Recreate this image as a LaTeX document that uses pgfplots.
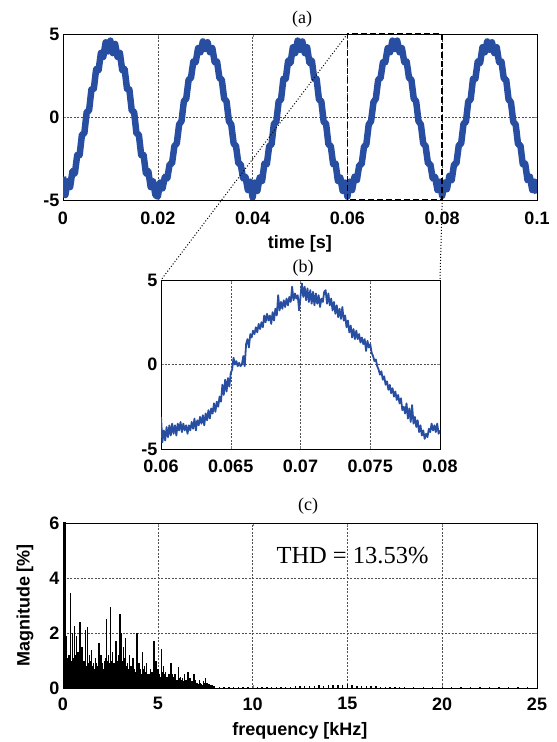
\documentclass[border=0pt]{standalone}
\usepackage{fontspec}
\setmainfont{Liberation Serif}
\setsansfont{Liberation Sans}
\usepackage{pgfplots}
\pgfplotsset{compat=1.18}

\definecolor{sigblue}{RGB}{40,78,162}
\definecolor{gridgray}{RGB}{80,80,80}

\pgfplotsset{
  panel/.style={
    scale only axis,
    anchor=south west,
    axis line style={line width=0.9pt},
    tick align=inside,
    major tick length=3pt,
    scaled x ticks=false,
    scaled y ticks=false,
    grid=major,
    major grid style={gridgray, line width=0.5pt, dash pattern=on 2pt off 1.5pt},
    ticklabel style={font=\sffamily\bfseries\fontsize{18}{18}\selectfont},
    /pgf/number format/assume math mode=true,
    label style={font=\sffamily\bfseries\fontsize{18}{18}\selectfont},
  }
}

\begin{document}
\begin{tikzpicture}[x=1pt,y=1pt]
\useasboundingbox (0,0) rectangle (557,742);

% (a) full waveform
\begin{axis}[panel, at={(63pt,542pt)}, width=474pt, height=166pt,
  xmin=0, xmax=0.1, ymin=-5, ymax=5,
  xtick={0,0.02,0.04,0.06,0.08,0.1},
  xticklabels={0,0.02,0.04,0.06,0.08,0.1},
  xticklabel style={yshift=-8pt},
  ytick={-5,0,5},
  xlabel={time [s]},
  xlabel style={at={(axis description cs:0.5,-0.265)}, anchor=center}]
\addplot[sigblue, line width=6.5pt, line join=round] table {
0.0000 -3.60
0.0005 -4.70
0.0010 -3.88
0.0015 -4.22
0.0020 -3.26
0.0025 -3.41
0.0030 -2.29
0.0035 -2.30
0.0040 -1.06
0.0045 -0.99
0.0050 0.30
0.0055 0.39
0.0060 1.66
0.0065 1.70
0.0070 2.89
0.0075 2.81
0.0080 3.86
0.0085 3.62
0.0090 4.50
0.0095 3.95
0.0100 4.60
0.0105 3.85
0.0110 4.40
0.0115 3.62
0.0120 3.86
0.0125 2.81
0.0130 2.89
0.0135 1.70
0.0140 1.66
0.0145 0.39
0.0150 0.30
0.0155 -0.99
0.0160 -1.06
0.0165 -2.30
0.0170 -2.29
0.0175 -3.41
0.0180 -3.26
0.0185 -4.22
0.0190 -3.88
0.0195 -4.70
0.0200 -4.80
0.0205 -3.95
0.0210 -4.30
0.0215 -3.60
0.0220 -3.70
0.0225 -2.85
0.0230 -2.80
0.0235 -1.75
0.0240 -1.60
0.0245 -0.45
0.0250 -0.25
0.0255 0.95
0.0260 1.10
0.0265 2.25
0.0270 2.35
0.0275 3.35
0.0280 3.30
0.0285 4.15
0.0290 3.90
0.0295 4.55
0.0300 4.10
0.0305 4.50
0.0310 3.90
0.0315 4.15
0.0320 3.30
0.0325 3.35
0.0330 2.35
0.0335 2.25
0.0340 1.10
0.0345 0.95
0.0350 -0.25
0.0355 -0.45
0.0360 -1.60
0.0365 -1.75
0.0370 -2.80
0.0375 -2.85
0.0380 -3.70
0.0385 -3.60
0.0390 -4.40
0.0395 -3.90
0.0400 -4.85
0.0405 -3.95
0.0410 -4.45
0.0415 -3.65
0.0420 -3.85
0.0425 -2.80
0.0430 -2.85
0.0435 -1.75
0.0440 -1.65
0.0445 -0.40
0.0450 -0.30
0.0455 0.95
0.0460 1.05
0.0465 2.30
0.0470 2.30
0.0475 3.40
0.0480 3.25
0.0485 4.20
0.0490 3.85
0.0495 4.60
0.0500 4.05
0.0505 4.55
0.0510 3.85
0.0515 4.20
0.0520 3.25
0.0525 3.40
0.0530 2.30
0.0535 2.30
0.0540 1.05
0.0545 0.95
0.0550 -0.30
0.0555 -0.40
0.0560 -1.65
0.0565 -1.75
0.0570 -2.85
0.0575 -2.80
0.0580 -3.85
0.0585 -3.65
0.0590 -4.45
0.0595 -3.95
0.0600 -4.80
0.0605 -3.90
0.0610 -4.40
0.0615 -3.60
0.0620 -3.80
0.0625 -2.90
0.0630 -2.85
0.0635 -1.80
0.0640 -1.65
0.0645 -0.45
0.0650 -0.25
0.0655 0.90
0.0660 1.10
0.0665 2.25
0.0670 2.35
0.0675 3.30
0.0680 3.30
0.0685 4.15
0.0690 3.90
0.0695 4.60
0.0700 4.10
0.0705 4.60
0.0710 3.90
0.0715 4.15
0.0720 3.30
0.0725 3.35
0.0730 2.35
0.0735 2.25
0.0740 1.10
0.0745 0.95
0.0750 -0.25
0.0755 -0.45
0.0760 -1.60
0.0765 -1.75
0.0770 -2.80
0.0775 -2.85
0.0780 -3.70
0.0785 -3.60
0.0790 -4.40
0.0795 -3.90
0.0800 -4.75
0.0805 -3.95
0.0810 -4.35
0.0815 -3.55
0.0820 -3.80
0.0825 -2.85
0.0830 -2.80
0.0835 -1.70
0.0840 -1.60
0.0845 -0.40
0.0850 -0.30
0.0855 0.95
0.0860 1.05
0.0865 2.30
0.0870 2.30
0.0875 3.35
0.0880 3.25
0.0885 4.20
0.0890 3.90
0.0895 4.55
0.0900 4.05
0.0905 4.50
0.0910 3.85
0.0915 4.20
0.0920 3.30
0.0925 3.35
0.0930 2.30
0.0935 2.25
0.0940 1.05
0.0945 0.90
0.0950 -0.30
0.0955 -0.45
0.0960 -1.65
0.0965 -1.70
0.0970 -2.85
0.0975 -2.80
0.0980 -3.80
0.0985 -3.60
0.0990 -4.40
0.0995 -3.90
0.1000 -4.60
};
\coordinate (zA) at (axis cs:0.06,5);
\coordinate (zB) at (axis cs:0.08,-5);
\coordinate (zC) at (axis cs:0.06,-5);
\coordinate (zD) at (axis cs:0.08,5);
\end{axis}

% (b) zoomed period
\begin{axis}[panel, at={(161pt,293pt)}, width=279pt, height=169pt,
  xmin=0.06, xmax=0.08, ymin=-5, ymax=5,
  xtick={0.06,0.065,0.07,0.075,0.08},
  xticklabels={0.06,0.065,0.07,0.075,0.08},
  xticklabel style={yshift=-7pt},
  ytick={-5,0,5}]
\addplot[sigblue, line width=1.8pt, line join=round] table {
0.0600 -3.1
0.0601 -4.6
0.0602 -3.9
0.0603 -4.5
0.0604 -3.7
0.0605 -4.3
0.0606 -3.6
0.0607 -4.2
0.0608 -3.5
0.0609 -4.1
0.0610 -3.6
0.0611 -4.2
0.0612 -3.5
0.0613 -3.9
0.0614 -3.4
0.0615 -4.0
0.0616 -3.5
0.0617 -3.9
0.0618 -3.6
0.0619 -4.1
0.0620 -3.6
0.0621 -3.9
0.0622 -3.4
0.0623 -3.8
0.0624 -3.2
0.0625 -3.9
0.0626 -3.3
0.0627 -3.6
0.0628 -3.1
0.0629 -3.5
0.0630 -3.0
0.0631 -3.6
0.0632 -2.9
0.0633 -3.3
0.0634 -2.7
0.0635 -3.2
0.0636 -2.6
0.0637 -2.9
0.0638 -2.3
0.0639 -2.8
0.0640 -2.2
0.0641 -2.5
0.0642 -1.9
0.0643 -2.2
0.0644 -1.2
0.0645 -1.8
0.0646 -0.9
0.0647 -1.6
0.0648 -0.8
0.0649 -1.3
0.0650 -0.5
0.0651 -0.3
0.0652 0.4
0.0653 0.0
0.0654 0.2
0.0655 -0.1
0.0656 0.1
0.0657 -0.1
0.0658 0.0
0.0659 0.5
0.0660 -0.1
0.0661 1.2
0.0662 1.5
0.0663 1.0
0.0664 1.8
0.0665 1.6
0.0666 2.0
0.0667 1.8
0.0668 2.2
0.0669 1.9
0.0670 2.4
0.0671 2.1
0.0672 2.5
0.0673 2.2
0.0674 2.9
0.0675 2.5
0.0676 3.0
0.0677 2.6
0.0678 2.9
0.0679 2.4
0.0680 3.1
0.0681 2.6
0.0682 3.3
0.0683 2.9
0.0684 4.1
0.0685 3.2
0.0686 3.7
0.0687 3.3
0.0688 3.8
0.0689 3.4
0.0690 3.9
0.0691 3.5
0.0692 4.0
0.0693 3.7
0.0694 4.6
0.0695 3.8
0.0696 4.2
0.0697 3.9
0.0698 4.1
0.0699 3.2
0.0700 4.0
0.0701 4.8
0.0702 4.0
0.0703 4.6
0.0704 3.8
0.0705 4.5
0.0706 3.7
0.0707 4.4
0.0708 3.6
0.0709 4.3
0.0710 3.5
0.0711 4.2
0.0712 3.6
0.0713 4.1
0.0714 3.4
0.0715 3.9
0.0716 3.7
0.0717 4.3
0.0718 4.4
0.0719 3.6
0.0720 4.2
0.0721 3.5
0.0722 3.9
0.0723 3.2
0.0724 3.7
0.0725 3.0
0.0726 3.5
0.0727 2.8
0.0728 3.3
0.0729 2.7
0.0730 3.4
0.0731 2.6
0.0732 2.9
0.0733 2.2
0.0734 2.6
0.0735 1.9
0.0736 2.3
0.0737 1.6
0.0738 2.1
0.0739 1.5
0.0740 2.0
0.0741 1.5
0.0742 1.8
0.0743 1.3
0.0744 1.6
0.0745 1.2
0.0746 1.5
0.0747 0.8
0.0748 1.4
0.0749 1.0
0.0750 1.2
0.0751 0.7
0.0752 0.5
0.0753 0.2
0.0754 0.3
0.0755 -0.1
0.0756 -0.3
0.0757 -0.6
0.0758 -0.4
0.0759 -0.9
0.0760 -0.7
0.0761 -1.2
0.0762 -1.0
0.0763 -1.5
0.0764 -1.2
0.0765 -1.7
0.0766 -1.4
0.0767 -1.9
0.0768 -1.6
0.0769 -2.1
0.0770 -1.8
0.0771 -2.3
0.0772 -2.0
0.0773 -2.7
0.0774 -2.5
0.0775 -2.9
0.0776 -2.3
0.0777 -3.2
0.0778 -2.6
0.0779 -3.4
0.0780 -2.4
0.0781 -3.5
0.0782 -3.1
0.0783 -3.7
0.0784 -3.3
0.0785 -4.0
0.0786 -3.6
0.0787 -4.2
0.0788 -3.9
0.0789 -4.4
0.0790 -4.1
0.0791 -4.3
0.0792 -3.8
0.0793 -4.0
0.0794 -3.5
0.0795 -3.9
0.0796 -3.6
0.0797 -4.0
0.0798 -3.5
0.0799 -4.1
0.0800 -3.9
};
\coordinate (bA) at (axis cs:0.06,5);
\coordinate (bB) at (axis cs:0.08,5);
\end{axis}

% (c) harmonic spectrum
\begin{axis}[panel, at={(63pt,54pt)}, width=474pt, height=165pt,
  xmin=0, xmax=25, ymin=0, ymax=6,
  xtick={0,5,10,15,20,25}, ytick={0,2,4,6},
  xticklabel style={yshift=-6pt},
  xlabel={frequency [kHz]}, ylabel={Magnitude [\%]},
  xlabel style={at={(axis description cs:0.5,-0.26)}, anchor=center},
  ylabel style={at={(axis description cs:-0.08,0.5)}, anchor=center}]
\addplot[ycomb, black, line width=3pt] coordinates {(0.06,100)};
% background mass between the larger harmonics
\addplot[ycomb, black, line width=1.4pt] table {
0.15 1.30
0.25 1.10
0.35 1.20
0.45 1.00
0.55 1.10
0.65 1.20
0.75 1.00
0.85 0.90
0.95 1.10
1.05 0.90
1.15 1.00
1.25 0.80
1.35 0.90
1.45 1.00
1.55 0.80
1.65 0.70
1.75 0.90
1.85 0.70
1.95 0.80
2.05 0.90
2.15 0.60
2.25 1.10
2.35 1.00
2.45 0.90
2.55 1.00
2.65 0.80
2.75 0.90
2.85 0.80
2.95 1.20
3.05 1.10
3.15 1.00
3.25 1.10
3.35 0.80
3.45 0.70
3.55 0.80
3.65 0.60
3.75 0.70
3.85 0.60
3.95 0.80
4.05 0.60
4.15 0.50
4.25 0.70
4.35 0.60
4.45 0.50
4.55 0.50
4.65 0.40
4.75 0.60
4.85 0.70
4.95 0.50
5.05 0.50
5.15 0.40
5.25 0.60
5.35 0.50
5.45 0.40
5.55 0.35
5.65 0.40
5.75 0.50
5.85 0.35
5.95 0.30
6.05 0.30
6.15 0.35
6.25 0.30
6.35 0.25
6.45 0.30
6.55 0.25
6.65 0.30
6.75 0.25
6.85 0.20
6.95 0.25
7.05 0.20
7.15 0.15
7.25 0.20
7.35 0.12
7.45 0.20
7.55 0.15
7.65 0.12
7.75 0.10
7.85 0.08
7.95 0.06
};
\addplot[ycomb, black, line width=1.4pt] table {
0.1 3.20
0.2 1.90
0.3 1.20
0.4 3.45
0.5 2.00
0.6 2.25
0.7 1.90
0.8 1.30
0.9 2.40
1.0 1.50
1.1 1.00
1.2 2.10
1.3 2.20
1.4 1.20
1.5 1.40
1.6 0.90
1.7 1.10
1.8 0.80
1.9 1.65
2.0 1.20
2.1 0.70
2.2 1.00
2.3 2.50
2.4 1.20
2.5 2.95
2.6 1.30
2.7 0.90
2.8 1.70
2.9 1.00
3.0 2.70
3.1 2.00
3.2 1.50
3.3 1.80
3.4 0.90
3.5 1.20
3.6 0.80
3.7 1.10
3.8 0.60
3.9 2.00
4.0 0.90
4.1 0.70
4.2 1.30
4.3 0.80
4.4 0.90
4.5 0.50
4.6 0.70
4.7 0.60
4.8 1.70
4.9 1.00
5.0 0.70
5.1 0.50
5.2 1.42
5.3 0.80
5.4 0.60
5.5 0.40
5.6 0.50
5.7 0.90
5.8 0.40
5.9 0.50
6.0 0.30
6.1 0.75
6.2 0.40
6.3 0.35
6.4 0.50
6.5 0.30
6.6 0.60
6.7 0.35
6.8 0.25
6.9 0.50
7.0 0.30
7.1 0.20
7.2 0.30
7.3 0.15
7.4 0.25
7.5 0.35
7.6 0.20
7.7 0.15
7.8 0.10
7.9 0.12
8.0 0.06
8.25 0.04
8.5 0.05
8.75 0.03
9.0 0.03
9.25 0.02
9.5 0.02
9.75 0.02
10.0 0.01
10.25 0.02
10.5 0.02
10.75 0.02
11.0 0.03
11.25 0.02
11.5 0.03
11.75 0.04
12.0 0.05
12.25 0.06
12.5 0.08
12.75 0.07
13.0 0.09
13.25 0.08
13.5 0.10
13.75 0.09
14.0 0.11
14.25 0.10
14.5 0.12
14.75 0.11
15.0 0.15
15.25 0.10
15.5 0.09
15.75 0.08
16.0 0.07
16.25 0.06
16.5 0.06
16.75 0.05
17.0 0.04
17.25 0.04
17.5 0.03
17.75 0.03
18.0 0.02
18.5 0.02
19.0 0.02
19.5 0.02
20.0 0.02
20.5 0.02
21.0 0.02
21.5 0.03
22.0 0.03
22.5 0.03
23.0 0.03
23.5 0.03
24.0 0.03
24.5 0.03
};
\node[anchor=base, font=\fontsize{24.5}{24.5}\selectfont] at (axis cs:15.27,4.51) {THD = 13.53\%};
\end{axis}

% zoom box and connectors
\draw[line width=1.6pt, dash pattern=on 6pt off 3pt] (zC) rectangle (zD);
\draw[line width=1pt, dotted] (zA) -- (bA);
\draw[line width=1pt, dotted] (zB) -- (bB);

% panel titles
\node[anchor=base, font=\fontsize{18}{18}\selectfont] at (302,718) {(a)};
\node[anchor=base, font=\fontsize{18}{18}\selectfont] at (303,469) {(b)};
\node[anchor=base, font=\fontsize{18}{18}\selectfont] at (308,231) {(c)};
\end{tikzpicture}
\end{document}
